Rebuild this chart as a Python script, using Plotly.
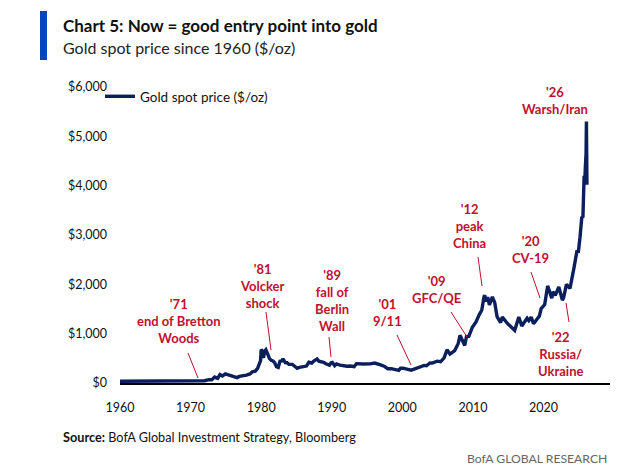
import plotly.graph_objects as go
import pandas as pd

# ---------------- data ----------------
dates = [
    "1960-01", "1965-01", "1967-12", "1968-06", "1969-03", "1970-01", "1971-01", "1971-08",
    "1972-01", "1972-08", "1973-01", "1973-06", "1973-11", "1974-03", "1974-07", "1974-12",
    "1975-06", "1975-09", "1976-08", "1976-12", "1977-06", "1977-12", "1978-06", "1978-10",
    "1979-03", "1979-07", "1979-10", "1979-12", "1980-01", "1980-02", "1980-03", "1980-05",
    "1980-07", "1980-09", "1980-12", "1981-03", "1981-06", "1981-09", "1981-12", "1982-03",
    "1982-06", "1982-09", "1982-12", "1983-02", "1983-06", "1983-09", "1983-12", "1984-06",
    "1984-12", "1985-02", "1985-06", "1985-12", "1986-06", "1986-10", "1987-03", "1987-07",
    "1987-12", "1988-03", "1988-07", "1988-11", "1989-03", "1989-09", "1989-12", "1990-02",
    "1990-06", "1990-09", "1991-03", "1991-09", "1992-03", "1992-09", "1993-03", "1993-07",
    "1993-12", "1994-06", "1995-06", "1996-02", "1996-12", "1997-06", "1997-12", "1998-06",
    "1999-07", "1999-10", "2000-02", "2000-12", "2001-04", "2001-09", "2002-06", "2002-12",
    "2003-02", "2003-06", "2003-12", "2004-04", "2004-12", "2005-06", "2005-12", "2006-05",
    "2006-10", "2007-06", "2007-12", "2008-03", "2008-06", "2008-10", "2008-11", "2009-02",
    "2009-06", "2009-12", "2010-06", "2010-12", "2011-04", "2011-08", "2011-09", "2011-12",
    "2012-02", "2012-05", "2012-10", "2013-02", "2013-06", "2013-12", "2014-03", "2014-12",
    "2015-07", "2015-12", "2016-07", "2016-12", "2017-09", "2017-12", "2018-04", "2018-08",
    "2019-06", "2019-09", "2020-03", "2020-08", "2020-11", "2021-03", "2021-05", "2021-09",
    "2022-03", "2022-09", "2022-11", "2023-04", "2023-10", "2023-12", "2024-03", "2024-05",
    "2024-10", "2024-12", "2025-03", "2025-04", "2025-06", "2025-08", "2025-10", "2025-11",
    "2025-12", "2026-01-10", "2026-01-28", "2026-02-02", "2026-02-10", "2026-02-25",
]
gold = [
    35, 35, 35, 41, 43, 35, 38, 42,
    46, 67, 65, 120, 94, 170, 144, 183,
    165, 142, 110, 134, 141, 161, 183, 227,
    240, 296, 392, 455, 675, 665, 553, 513,
    644, 673, 590, 500, 460, 445, 410, 330,
    315, 440, 445, 490, 413, 410, 380, 377,
    320, 300, 317, 327, 343, 420, 405, 450,
    486, 443, 437, 420, 390, 362, 409, 417,
    352, 388, 363, 348, 341, 345, 330, 392,
    382, 385, 387, 405, 369, 341, 289, 292,
    256, 300, 300, 272, 260, 283, 321, 333,
    357, 350, 407, 403, 442, 430, 509, 675,
    585, 655, 803, 968, 889, 807, 760, 943,
    945, 1130, 1233, 1391, 1474, 1756, 1772, 1652,
    1742, 1585, 1747, 1627, 1343, 1225, 1336, 1202,
    1130, 1068, 1337, 1157, 1314, 1265, 1335, 1202,
    1359, 1510, 1591, 1968, 1866, 1719, 1850, 1775,
    1947, 1681, 1725, 1999, 1916, 2027, 2160, 2350,
    2690, 2640, 2950, 3200, 3350, 3370, 4200, 4050,
    4350, 4650, 5300, 4500, 4550, 4020,
]
series_name = "Gold spot price ($/oz)"
x_ticks = [1960, 1970, 1980, 1990, 2000, 2010, 2020]
y_ticks = [0, 1000, 2000, 3000, 4000, 5000, 6000]
y_tick_labels = ["$0", "$1,000", "$2,000", "$3,000", "$4,000", "$5,000", "$6,000"]

events = [
    "'71<br>end of Bretton<br>Woods",
    "'81<br>Volcker<br>shock",
    "'89<br>fall of<br>Berlin<br>Wall",
    "'01<br>9/11",
    "'09<br>GFC/QE",
    "'12<br>peak<br>China",
    "'20<br>CV-19",
    "'22<br>Russia/<br>Ukraine",
    "'26<br>Warsh/Iran",
]

# ---------------- layout geometry (pixels) ----------------
WIDTH, HEIGHT = 635, 473
L, R, T, B = 120, 610, 87, 383
PW, PH = R - L, B - T


def px(x):
    return (x - L) / PW


def py(y):
    return (B - y) / PH


NAVY = "#0B1F5C"
RED = "#C0102E"
FONT = "Lato"

label_pos = [(179, 321), (262, 286), (332, 300), (387, 312), (436, 289),
             (469, 226), (530, 249), (560, 354), (555, 100)]
leader_lines = [((188, 353), (198, 378)), ((266, 312), (271, 350)),
                ((329, 337), (331, 357)), ((397, 335), (411, 365)),
                ((451, 312), (467, 337)), ((478, 257), (482, 286)),
                ((531, 272), (540, 298)), ((566, 303), (569, 322))]

x_dt = pd.to_datetime(dates, format="mixed")

fig = go.Figure()
fig.add_trace(go.Scatter(
    x=x_dt, y=gold, mode="lines", name=series_name,
    line=dict(color=NAVY, width=3.4),
))

annotations = []
for txt, (cx, cy) in zip(events, label_pos):
    annotations.append(dict(
        text=txt, x=px(cx), y=py(cy), xref="paper", yref="paper",
        showarrow=False, xanchor="center", yanchor="middle", align="center",
        font=dict(family=FONT, size=13, color=RED, weight="bold"),
    ))

# titles & footer
annotations += [
    dict(text="<b>Chart 5: Now = good entry point into gold</b>", x=px(61), y=py(26),
         xref="paper", yref="paper", showarrow=False, xanchor="left", yanchor="middle",
         font=dict(family=FONT, size=17, color="#111111")),
    dict(text="Gold spot price since 1960 ($/oz)", x=px(61), y=py(48),
         xref="paper", yref="paper", showarrow=False, xanchor="left", yanchor="middle",
         font=dict(family=FONT, size=16, color="#222222")),
    dict(text="<b>Source:</b> BofA Global Investment Strategy, Bloomberg", x=px(61), y=py(437),
         xref="paper", yref="paper", showarrow=False, xanchor="left", yanchor="middle",
         font=dict(family=FONT, size=12.7, color="#111111")),
    dict(text="BofA GLOBAL RESEARCH", x=px(609), y=py(458),
         xref="paper", yref="paper", showarrow=False, xanchor="right", yanchor="middle",
         font=dict(family=FONT, size=12.2, color="#666666")),
]

shapes = [dict(type="rect", xref="paper", yref="paper", x0=px(40), x1=px(47),
               y0=py(60), y1=py(11), fillcolor="#0047BB", line=dict(width=0))]
for (x0, y0), (x1, y1) in leader_lines:
    shapes.append(dict(type="line", xref="paper", yref="paper",
                       x0=px(x0), y0=py(y0), x1=px(x1), y1=py(y1),
                       line=dict(color=RED, width=1)))

fig.update_layout(
    width=WIDTH, height=HEIGHT,
    margin=dict(l=L, r=WIDTH - R, t=T, b=HEIGHT - B),
    paper_bgcolor="white", plot_bgcolor="white",
    font=dict(family=FONT, size=12, color="#111111"),
    showlegend=True,
    legend=dict(x=px(100), y=py(81), xanchor="left", yanchor="top",
                bgcolor="rgba(0,0,0,0)", font=dict(family=FONT, size=13.5, color="#111111"),
                itemwidth=30, tracegroupgap=0),
    annotations=annotations,
    shapes=shapes,
    xaxis=dict(
        range=[pd.Timestamp("1960-01-01"), pd.Timestamp("2029-06-01")],
        tickvals=[pd.Timestamp(f"{y}-01-01") for y in x_ticks],
        ticktext=[str(y) for y in x_ticks],
        showgrid=False, zeroline=False,
        showline=True, linecolor="black", linewidth=1.5,
        ticks="", tickfont=dict(size=12.5, color="#111111"),
        ticklabelstandoff=12,
    ),
    yaxis=dict(
        range=[0, 6000], tickvals=y_ticks, ticktext=y_tick_labels,
        showgrid=False, zeroline=False, showline=False, ticks="",
        tickfont=dict(size=12.5, color="#111111"), ticklabelstandoff=12,
    ),
)

fig.write_html("out.html")
